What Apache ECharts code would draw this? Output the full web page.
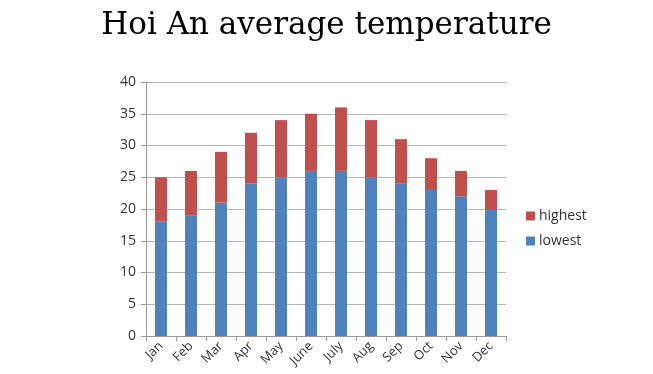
<!DOCTYPE html>
<html><head><meta charset="utf-8">
<script src="https://cdn.jsdelivr.net/npm/echarts@6/dist/echarts.min.js"></script>
<style>html,body{margin:0;padding:0;background:#fff}#c{width:653px;height:374px}</style>
</head><body><div id="c"></div>
<script>
var categories = ['Jan','Feb','Mar','Apr','May','June','July','Aug','Sep','Oct','Nov','Dec'];
var lowest = [18,19,21,24,25,26,26,25,24,23,22,20];
var highestSegment = [7,7,8,8,9,9,10,9,7,5,4,3];
var yTicks = {min:0,max:40,interval:5};

var chart = echarts.init(document.getElementById('c'));
chart.setOption({
  animation:false,
  title:{text:'Hoi An average temperature',left:'center',top:5,
    textStyle:{fontFamily:'DejaVu Serif',fontSize:31,fontWeight:'normal',color:'#000'}},
  legend:{orient:'vertical',left:521,top:204,itemWidth:9,itemHeight:9,itemGap:11,
    icon:'rect',data:['highest','lowest'],
    textStyle:{fontFamily:'Open Sans',fontSize:14,color:'#333',padding:[0,0,0,-1]}},
  grid:{left:146,right:147,top:82,bottom:38,containLabel:false},
  xAxis:{type:'category',data:categories,
    axisLine:{lineStyle:{color:'#999'}},
    axisTick:{show:true,alignWithLabel:false,lineStyle:{color:'#999'},length:5},
    axisLabel:{rotate:45,fontFamily:'Open Sans',fontSize:13,color:'#333',margin:8}},
  yAxis:{type:'value',min:yTicks.min,max:yTicks.max,interval:yTicks.interval,
    axisLine:{show:true,lineStyle:{color:'#999'}},
    axisTick:{show:true,length:5,lineStyle:{color:'#999'}},
    splitLine:{lineStyle:{color:'#b5b5b5'}},
    axisLabel:{fontFamily:'Open Sans',fontSize:14,color:'#333',margin:10}},
  series:[
    {name:'lowest',type:'bar',stack:'t',data:lowest,barWidth:12,itemStyle:{color:'#4F81BD'}},
    {name:'highest',type:'bar',stack:'t',data:highestSegment,barWidth:12,itemStyle:{color:'#C0504D'}}
  ]
});
</script></body></html>
